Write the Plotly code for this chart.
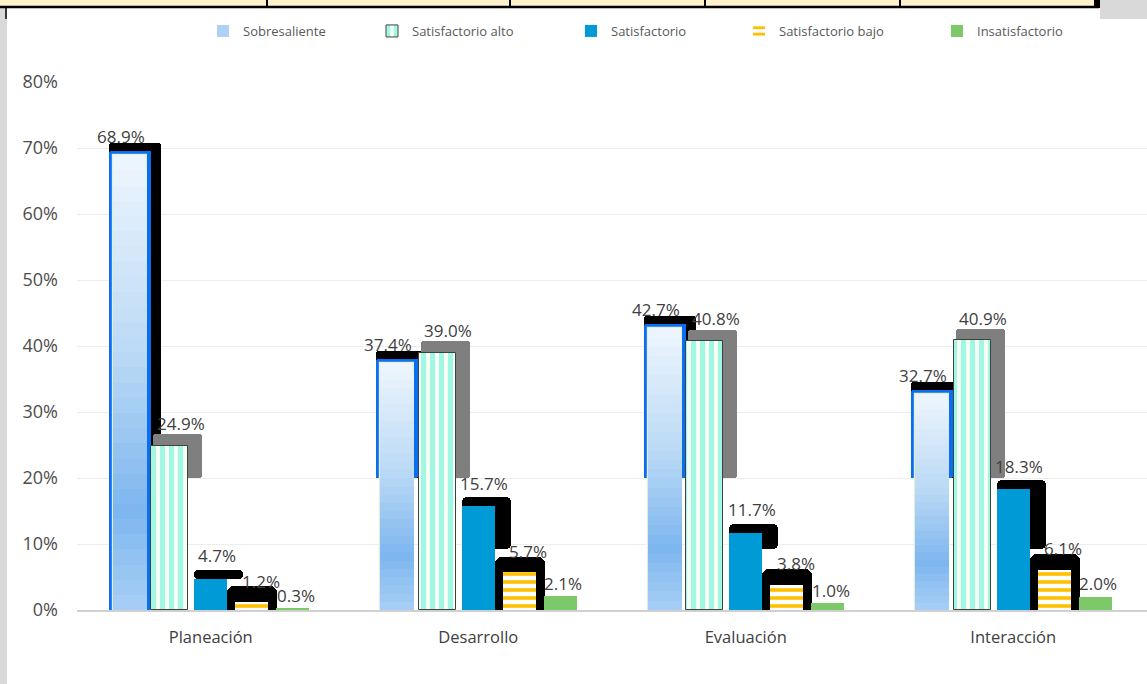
import plotly.graph_objects as go

# ---------------- data ----------------
categories = ["Planeación", "Desarrollo", "Evaluación", "Interacción"]
series_names = ["Sobresaliente", "Satisfactorio alto", "Satisfactorio",
                "Satisfactorio bajo", "Insatisfactorio"]
sobresaliente = [68.9, 37.4, 42.7, 32.7]
satisfactorio_alto = [24.9, 39.0, 40.8, 40.9]
satisfactorio = [4.7, 15.7, 11.7, 18.3]
satisfactorio_bajo = [1.2, 5.7, 3.8, 6.1]
insatisfactorio = [0.3, 2.1, 1.0, 2.0]
y_tick_values = [0, 10, 20, 30, 40, 50, 60, 70, 80]
y_tick_labels = ["0%", "10%", "20%", "30%", "40%", "50%", "60%", "70%", "80%"]

series_values = [sobresaliente, satisfactorio_alto, satisfactorio,
                 satisfactorio_bajo, insatisfactorio]

# ---------------- geometry / style ----------------
W, H = 1147, 684
L, R, T, B = 77, 0, 82, 74
PW, PH = W - L - R, H - T - B
U = 4.0 / PW  # category units per pixel

def px_x(px):
    return (px - L) / PW

def px_y(py):
    return (H - B - py) / PH

FONT = "Open Sans"
centers_px = [-81, -41, 0, 41, 82]
widths_px = [42, 37, 33, 33, 33]

def geom(center_px, width_px):
    return dict(offset=(center_px - width_px / 2) * U, width=width_px * U)

def hex2rgb(h):
    h = h.lstrip("#")
    return tuple(int(h[i:i + 2], 16) for i in (0, 2, 4))

def interp(stops, f):
    for (f0, c0), (f1, c1) in zip(stops, stops[1:]):
        if f0 <= f <= f1:
            t = (f - f0) / (f1 - f0) if f1 > f0 else 0
            a, b = hex2rgb(c0), hex2rgb(c1)
            return "rgb(%d,%d,%d)" % tuple(round(a[i] + (b[i] - a[i]) * t) for i in range(3))
    return stops[-1][1]

fig = go.Figure()

# --- Sobresaliente: shadow, blue outline, gradient fill ---
v = sobresaliente
c, w = centers_px[0], widths_px[0]
sh_top = [x + 1.8 for x in v]
sh_base = [min(20, x) for x in v]
fig.add_trace(go.Bar(x=categories, y=[t - b for t, b in zip(sh_top, sh_base)], base=sh_base,
                     marker=dict(color="#000000", line=dict(width=0), cornerradius=3),
                     showlegend=False, hoverinfo="skip", **geom(c + 5, w + 10)))
outline_base = [0, 20, 20, 20]
fig.add_trace(go.Bar(x=categories, y=[x + 0.6 - b for x, b in zip(v, outline_base)],
                     base=outline_base,
                     marker=dict(color="#0A6EF0", line=dict(width=0), cornerradius=2),
                     showlegend=False, hoverinfo="skip", **geom(c, w)))
stops = [(0.0, "#A8CFF5"), (0.22, "#7DB6EF"), (0.55, "#B9D8F5"), (1.0, "#EEF6FD")]
N = 30
for k in range(N, 0, -1):
    f = k / N
    col = interp(stops, f - 0.5 / N)
    fig.add_trace(go.Bar(
        x=categories, y=[x * f for x in v], name=series_names[0],
        marker=dict(color=col, line=dict(width=1.2 if k == N else 0, color="#E2EFDA")),
        showlegend=(k == N // 2), legend="legend", hoverinfo="skip",
        **geom(c, w - 8)))

# --- Satisfactorio alto ---
v = satisfactorio_alto
c, w = centers_px[1], widths_px[1]
sh_top = [x + 1.7 for x in v]
sh_base = [min(20, x) for x in v]
fig.add_trace(go.Bar(x=categories, y=[t - b for t, b in zip(sh_top, sh_base)], base=sh_base,
                     marker=dict(color="#7F7F7F", line=dict(width=0), cornerradius=3),
                     showlegend=False, hoverinfo="skip", **geom(c + 8, w + 12)))
fig.add_trace(go.Bar(x=categories, y=v, name=series_names[1], legend="legend2",
                     marker=dict(color="#F6FFF4", line=dict(width=1, color="#404040"),
                                 pattern=dict(shape="|", fgcolor="#A0F7E4", bgcolor="#F6FFF4",
                                              fgopacity=1, size=9, solidity=0.55)),
                     **geom(c, w)))

# --- Satisfactorio ---
v = satisfactorio
c, w = centers_px[2], widths_px[2]
sh_top = [x + 1.4 for x in v]
sh_base = [min(9.3, x) for x in v]
fig.add_trace(go.Bar(x=categories, y=[t - b for t, b in zip(sh_top, sh_base)], base=sh_base,
                     marker=dict(color="#000000", line=dict(width=0), cornerradius=5),
                     showlegend=False, hoverinfo="skip", **geom(c + 8, w + 16)))
fig.add_trace(go.Bar(x=categories, y=v, name=series_names[2], legend="legend3",
                     marker=dict(color="#009BD6", line=dict(width=0)),
                     **geom(c, w)))

# --- Satisfactorio bajo ---
v = satisfactorio_bajo
c, w = centers_px[3], widths_px[3]
sh_top = [x + 2.4 for x in v]
fig.add_trace(go.Bar(x=categories, y=sh_top,
                     marker=dict(color="#000000", line=dict(width=0), cornerradius=7),
                     showlegend=False, hoverinfo="skip", **geom(c + 0.5, w + 17)))
fig.add_trace(go.Bar(x=categories, y=v, name=series_names[3], legend="legend4",
                     marker=dict(color="#FFFFFF", line=dict(width=0),
                                 pattern=dict(shape="-", fgcolor="#FFC000", bgcolor="#FFFFFF",
                                              fgopacity=1, size=8, solidity=0.45)),
                     **geom(c, w)))

# --- Insatisfactorio ---
v = insatisfactorio
c, w = centers_px[4], widths_px[4]
fig.add_trace(go.Bar(x=categories, y=v, name=series_names[4], legend="legend5",
                     marker=dict(color="#7DC868", line=dict(width=0)),
                     **geom(c, w)))

# --- data labels ---
label_dx = [-90, -30, 6, 50, 85]
label_dy = [19, 22, 23, 21, 13]
annotations = []
for s, vals in enumerate(series_values):
    for i, val in enumerate(vals):
        annotations.append(dict(
            x=i + label_dx[s] * U, y=val, xref="x", yref="y",
            text="%.1f%%" % val, showarrow=False, yshift=label_dy[s],
            xanchor="center", yanchor="middle",
            font=dict(family=FONT, size=17, color="#404040")))

# --- decoration shapes (frame of the surrounding sheet) ---
shapes = [
    dict(type="rect", xref="paper", yref="paper", x0=px_x(0), x1=px_x(7),
         y0=px_y(H), y1=px_y(0), fillcolor="#D9D9D9", line=dict(width=0), layer="below"),
    dict(type="rect", xref="paper", yref="paper", x0=px_x(1100), x1=px_x(W),
         y0=px_y(19), y1=px_y(0), fillcolor="#D9D9D9", line=dict(width=0), layer="below"),
    dict(type="rect", xref="paper", yref="paper", x0=px_x(0), x1=px_x(1096),
         y0=px_y(7), y1=px_y(0), fillcolor="#FFF2CC", line=dict(width=0)),
    dict(type="line", xref="paper", yref="paper", x0=px_x(0), x1=px_x(1099),
         y0=px_y(7), y1=px_y(7), line=dict(width=2.5, color="#000000")),
    dict(type="rect", xref="paper", yref="paper", x0=px_x(1094), x1=px_x(1100),
         y0=px_y(8), y1=px_y(0), fillcolor="#000000", line=dict(width=0)),
    dict(type="line", xref="paper", yref="paper", x0=px_x(6), x1=px_x(6),
         y0=px_y(19), y1=px_y(7), line=dict(width=1.5, color="#000000")),
]
for xd in [267, 510, 705, 900]:
    shapes.append(dict(type="line", xref="paper", yref="paper", x0=px_x(xd), x1=px_x(xd),
                       y0=px_y(7), y1=px_y(0), line=dict(width=2, color="#000000")))

# --- legends (one per series, placed like the original) ---
legend_text_x = [243, 412, 611, 779, 977]
legend_keys = ["legend", "legend2", "legend3", "legend4", "legend5"]
leg_layout = {}
for key, tx in zip(legend_keys, legend_text_x):
    leg_layout[key] = dict(
        x=px_x(tx - 40), y=px_y(31), xanchor="left", yanchor="middle",
        orientation="h", bgcolor="rgba(0,0,0,0)", borderwidth=0,
        font=dict(family=FONT, size=13, color="#595959"), itemclick=False)

fig.update_layout(
    width=W, height=H, margin=dict(l=L, r=R, t=T, b=B),
    paper_bgcolor="white", plot_bgcolor="white",
    barmode="overlay", bargap=0,
    font=dict(family=FONT, color="#404040"),
    annotations=annotations, shapes=shapes,
    **leg_layout,
)
fig.update_xaxes(type="category", categoryorder="array", categoryarray=categories,
                 range=[-0.5, 3.5], showgrid=False, showline=True, linecolor="#D0D0D0",
                 linewidth=1.5, ticks="", ticklabelstandoff=11,
                 tickfont=dict(family=FONT, size=16.5, color="#404040"))
fig.update_yaxes(range=[0, 80], tickvals=y_tick_values, ticktext=y_tick_labels,
                 showgrid=True, gridcolor="#EDEDED", gridwidth=1.2, zeroline=False,
                 showline=False, ticks="", ticklabelstandoff=18,
                 tickfont=dict(family=FONT, size=18, color="#4D4D4D"))

fig.write_html("out.html", config={"displayModeBar": False},
               post_script="document.body.style.margin='0';")
